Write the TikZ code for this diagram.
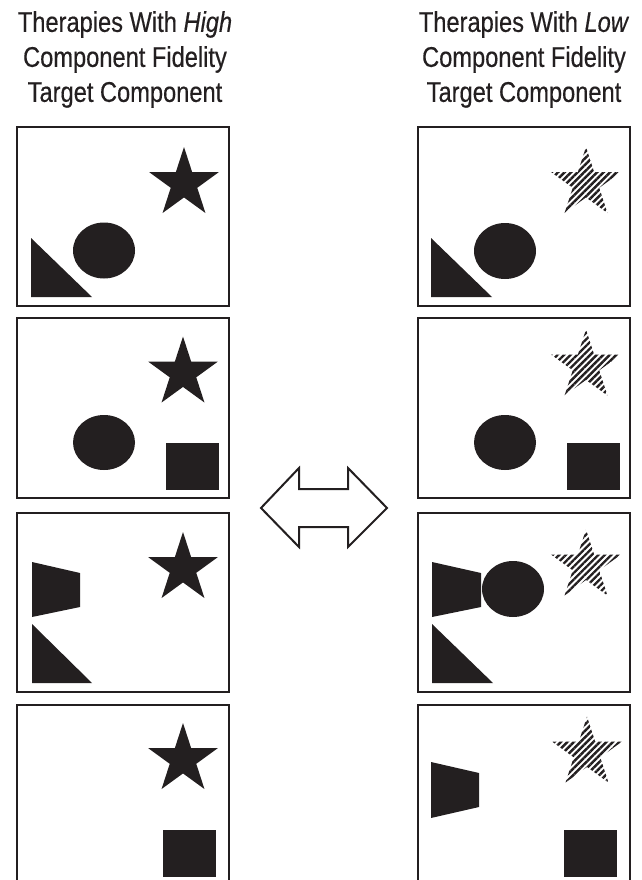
\documentclass[tikz,border=0pt]{standalone}
\usepackage{fontspec}
\setmainfont[FakeStretch=0.83,FakeBold=0.4]{Liberation Sans}
\usetikzlibrary{shapes.geometric,patterns.meta}
\definecolor{ink}{HTML}{231F20}

\begin{document}
\begin{tikzpicture}[x=1pt,y=-1pt,
    panel/.style={draw=ink, line width=2pt},
    blk/.style={fill=ink},
    title/.style={font=\fontsize{28.5}{35}\selectfont, align=center, text=ink},
    starshape/.style={star, star points=5, star point ratio=2.618, inner sep=0pt, minimum size=73pt},
    hatch/.style={pattern={Lines[angle=45,distance=4.6pt,line width=2.4pt]}, pattern color=ink}]
    \useasboundingbox (0,0) rectangle (641,880);

    % Titles
    \node[title] (hightitle) at (125,59.5) {Therapies With \textit{High}\\Component Fidelity\\Target Component};
    \node[title] (lowtitle) at (524,59.5) {Therapies With \textit{Low}\\Component Fidelity\\Target Component};

    % Panels
    \draw[panel] (17,127) rectangle (229,306);
    \draw[panel] (17,318) rectangle (229,498);
    \draw[panel] (17,513) rectangle (229,692);
    \draw[panel] (17,880) -- (17,705) -- (229,705) -- (229,880);
    \draw[panel] (418,127) rectangle (630,306);
    \draw[panel] (418,318) rectangle (630,498);
    \draw[panel] (418,513) rectangle (630,692);
    \draw[panel] (418,880) -- (418,705) -- (630,705) -- (630,880);

    % High fidelity: solid star
    \fill[blk] (31,238) -- (31,297) -- (92,297) -- cycle;
    \fill[blk] (104,250.5) ellipse [x radius=31, y radius=28];
    \node[starshape, blk] (hstarA) at (184,183.5) {};

    \fill[blk] (104,442.5) ellipse [x radius=31, y radius=27.5];
    \fill[blk] (166,443) rectangle (219,490);
    \node[starshape, blk] (hstarB) at (183,373) {};

    \fill[blk] (32,562) -- (80,573) -- (80,607) -- (32,617) -- cycle;
    \fill[blk] (32,624) -- (32,683) -- (92,683) -- cycle;
    \node[starshape, blk] (hstarC) at (183,568.5) {};

    \fill[blk] (163,830) rectangle (216,877);
    \node[starshape, blk] (hstarD) at (183,759.5) {};

    % Low fidelity: hatched star
    \fill[blk] (431,238) -- (431,297) -- (492,297) -- cycle;
    \fill[blk] (505,251) ellipse [x radius=31, y radius=28];
    \node[starshape, hatch] (lstarA) at (586,183.5) {};

    \fill[blk] (505,442.5) ellipse [x radius=31, y radius=27.5];
    \fill[blk] (567,443) rectangle (620,490);
    \node[starshape, hatch] (lstarB) at (586,366) {};

    \fill[blk] (432,562) -- (481,573) -- (481,607) -- (432,617) -- cycle;
    \fill[blk] (513,589) ellipse [x radius=31, y radius=28];
    \fill[blk] (432,624) -- (432,683) -- (493,683) -- cycle;
    \node[starshape, hatch] (lstarC) at (586,566) {};

    \fill[blk] (431,762) -- (479,773) -- (479,807) -- (431,818) -- cycle;
    \fill[blk] (564,830) rectangle (617,877);
    \node[starshape, hatch] (lstarD) at (587,753) {};

    % Double arrow
    \draw[draw=ink, line width=2pt, miter limit=20] (261,508) -- (299,468) -- (299,489) -- (348,489) -- (348,468) -- (387,508)
        -- (348,547) -- (348,527) -- (299,527) -- (299,547) -- cycle;
\end{tikzpicture}
\end{document}
